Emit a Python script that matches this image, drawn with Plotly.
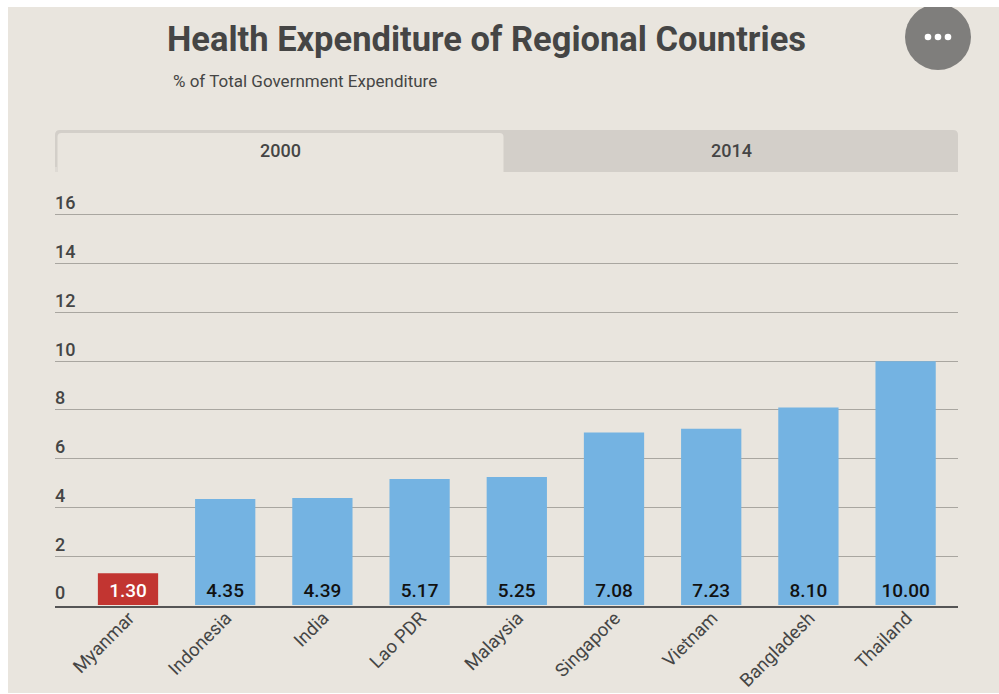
import plotly.graph_objects as go

countries = ["Myanmar", "Indonesia", "India", "Lao PDR", "Malaysia", "Singapore", "Vietnam", "Bangladesh", "Thailand"]
values_2000 = [1.30, 4.35, 4.39, 5.17, 5.25, 7.08, 7.23, 8.10, 10.00]
y_ticks = [0, 2, 4, 6, 8, 10, 12, 14, 16]
tabs = ["2000", "2014"]
title = "Health Expenditure of Regional Countries"
subtitle = "% of Total Government Expenditure"

W, H = 999, 694
L, R, T, B = 55, 958, 190, 606
BEIGE = "#e9e5de"
TAB = "#d3cfc9"
TEXT = "#454545"
FONT = "Roboto, sans-serif"

def px(x):
    return (x - L) / (R - L)

def py(y):
    return (B - y) / (B - T)

def rect(x0, y0, x1, y1, color, layer="below"):
    return dict(type="rect", xref="paper", yref="paper", x0=px(x0), x1=px(x1), y0=py(y0), y1=py(y1),
                fillcolor=color, line_width=0, layer=layer)

def top_round(x0, y0, x1, y1, r, color):
    p = (f"M {px(x0)} {py(y1)} L {px(x0)} {py(y0 + r)} Q {px(x0)} {py(y0)} {px(x0 + r)} {py(y0)} "
         f"L {px(x1 - r)} {py(y0)} Q {px(x1)} {py(y0)} {px(x1)} {py(y0 + r)} L {px(x1)} {py(y1)} Z")
    return dict(type="path", xref="paper", yref="paper", path=p, fillcolor=color, line_width=0, layer="below")

def circle(cx, cy, r, color, layer="above"):
    return dict(type="circle", xref="paper", yref="paper", x0=px(cx - r), x1=px(cx + r), y0=py(cy + r), y1=py(cy - r),
                fillcolor=color, line_width=0, layer=layer)

bar_colors = ["#c23531"] + ["#74b3e2"] * (len(countries) - 1)
text_colors = ["#ffffff"] + ["#111111"] * (len(countries) - 1)

fig = go.Figure(go.Bar(
    x=countries, y=values_2000, width=0.62,
    marker=dict(color=bar_colors, line_width=0),
    texttemplate="%{y:.2f}", textposition="inside", insidetextanchor="start", textangle=0,
    textfont=dict(family=FONT, size=19, weight=500, color=text_colors),
    cliponaxis=False, hoverinfo="x+y",
))

shapes = [
    rect(8, 7, W, 693, BEIGE),
    top_round(55, 130, 958, 172, 5, TAB),
    top_round(57.5, 133, 503.5, 172, 4, BEIGE),
    rect(55, 167, 57.5, 172, "#dedad4"),
    circle(938, 37, 33, "#7f7e7c"),
    rect(880, 0, W, 7, "#ffffff", layer="above"),
    circle(928, 37, 3.3, "#ffffff"),
    circle(938, 37, 3.3, "#ffffff"),
    circle(948, 37, 3.3, "#ffffff"),
]

annotations = [
    dict(text=subtitle, xref="paper", yref="paper", x=px(171), y=py(81), xanchor="left", yanchor="middle",
         showarrow=False, font=dict(family=FONT, size=17, color=TEXT)),
    dict(text=tabs[0], xref="paper", yref="paper", x=px(280), y=py(150.5), xanchor="center", yanchor="middle",
         showarrow=False, font=dict(family=FONT, size=18, weight=500, color=TEXT)),
    dict(text=tabs[1], xref="paper", yref="paper", x=px(731.5), y=py(150.5), xanchor="center", yanchor="middle",
         showarrow=False, font=dict(family=FONT, size=18, weight=500, color=TEXT)),
]

fig.update_layout(
    width=W, height=H, autosize=False,
    margin=dict(l=L, r=W - R, t=T, b=H - B, pad=0),
    paper_bgcolor="#ffffff", plot_bgcolor="rgba(0,0,0,0)",
    showlegend=False, shapes=shapes, annotations=annotations,
    title=dict(text=title, xref="paper", yref="container", x=px(486.5), y=1 - 39 / H,
               xanchor="center", yanchor="middle",
               font=dict(family=FONT, size=34.5, weight=700, color=TEXT)),
    xaxis=dict(type="category", range=[-0.751, 8.539], showgrid=False, zeroline=False, automargin=False,
               showline=True, linecolor="#555555", linewidth=2,
               tickangle=-45, ticks="", ticklabelstandoff=-8, ticklabelshift=1,
               tickfont=dict(family=FONT, size=18.5, color=TEXT)),
    yaxis=dict(range=[-0.04, 17.024], tickvals=y_ticks, ticktext=[str(v) for v in y_ticks], automargin=False,
               showgrid=True, gridcolor="#a9a6a0", gridwidth=1, zeroline=False, showline=False,
               ticks="", ticklabelposition="inside", ticklabelshift=-12, ticklabelstandoff=-3,
               tickfont=dict(family=FONT, size=18, weight=500, color=TEXT)),
)

fig.write_html("out.html", config={"displayModeBar": False},
               post_script="document.body.style.margin='0';document.body.style.overflow='hidden';")
